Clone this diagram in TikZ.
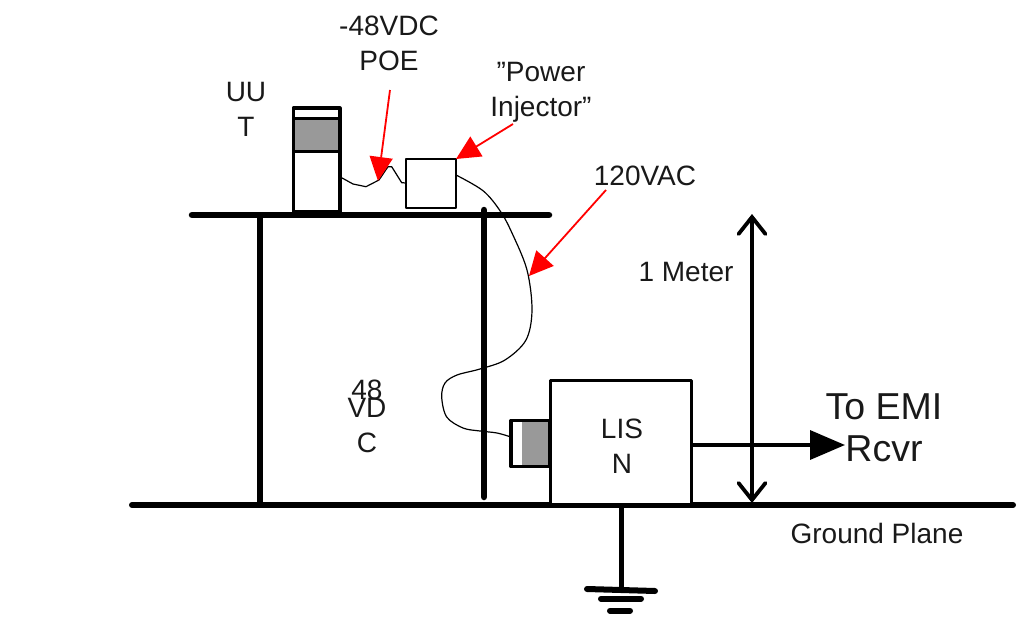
\documentclass[tikz,border=0pt]{standalone}
\usepackage{fontspec}
\setmainfont{Liberation Sans}
\usetikzlibrary{arrows.meta,calc}
\tikzset{
  thick rail/.style={line width=6.5pt,line cap=round,black},
  boxed/.style={draw=black,fill=white,line width=3.8pt,line join=round,inner sep=0pt,outer sep=0pt},
  greyblock/.style={fill=black!40,draw=none,inner sep=0pt,outer sep=0pt},
  wire/.style={line width=1.2pt,black,line join=round},
  callout/.style={draw=red,line width=1.8pt,-{Triangle[length=24pt,width=23pt,fill=red]}},
  lbl/.style={font=\fontsize{28}{35}\selectfont,align=center,inner sep=0pt,text=black!90},
  lblbig/.style={font=\fontsize{37.5}{42}\selectfont,align=center,inner sep=0pt,text=black!90},
}
\begin{document}
\begin{tikzpicture}[x=1pt,y=-1pt]
\useasboundingbox (0,0) rectangle (1021,635);
% rails
\coordinate (tableL) at (192,215);
\coordinate (tableR) at (549,215);
\coordinate (legAtop) at (260,215);
\coordinate (legAbot) at (260,505);
\coordinate (legBtop) at (484,210);
\coordinate (legBbot) at (484,497);
\coordinate (gndL) at (132,505);
\coordinate (gndR) at (1013,505);
\draw[thick rail] (tableL) -- (tableR);
\draw[thick rail,line cap=butt] (legAtop) -- (legAbot);
\draw[thick rail] (legBtop) -- (legBbot);
\draw[line width=6pt,line cap=round] (gndL) -- (gndR);
% UUT
\node[boxed,minimum width=46.5pt,minimum height=104pt,line width=3.5pt] (uut) at (316.5,160) {};
\node[boxed,draw=black,fill=black!40,line width=3.5pt,minimum width=46.5pt,minimum height=33pt] (uutscreen) at (316.5,135) {};
% injector
\node[boxed,line width=2pt,minimum width=50pt,minimum height=49pt] (inj) at (431,183.5) {};
% wires
\coordinate (w1) at (uut.east |- 0,176.7);
\coordinate (w1e) at (inj.west |- 0,183);
\draw[wire] (w1) -- (353,184) -- (366,186.7) -- (379,180) -- (388,166.7) -- (391.7,166.7) -- (401.7,182.7) -- (w1e);
\coordinate (w2) at (inj.east |- 0,175);
% LISN
\node[boxed,minimum width=141pt,minimum height=124pt] (lisn) at (621,442.5) {};
\node[boxed,line width=3.2pt,minimum width=38pt,minimum height=46pt] (plug) at (530,443.5) {};
\node[greyblock,minimum width=26pt,minimum height=43pt] (plugcore) at (535,443.5) {};
\draw[line width=3.8pt,line join=round] (lisn.north west) -- (lisn.south west);
\coordinate (w2e) at (plug.west |- 0,437);
\draw[wire] plot[smooth,tension=0.55] coordinates {(w2) (483,190.7) (500,210.7) (512,233) (527,270) (532,310) (526,340) (505,360) (480,369) (457,375) (445,383) (441.7,397) (446.7,417) (463,428) (480,431) (497,433) (w2e)};
% output and height arrow
\coordinate (outE) at (845,445);
\draw[line width=3.5pt,-{Triangle[length=35pt,width=29pt,fill=black]}] (lisn.east |- outE) -- (outE);
\coordinate (mTop) at (752,214);
\coordinate (mBot) at (752,503);
\draw[line width=3.8pt,{Straight Barb[length=17pt,width=27pt,line width=3.8pt,line cap=round]}-{Straight Barb[length=17pt,width=27pt,line width=3.8pt,line cap=round]}] (mTop) -- (mBot);
% earth
\coordinate (eTop) at (621,505);
\coordinate (eBot) at (621,590);
\coordinate (b1L) at (587,589);
\coordinate (b1R) at (655,591);
\coordinate (b2L) at (601,598.7);
\coordinate (b2R) at (641,598.7);
\coordinate (b3L) at (610,610.7);
\coordinate (b3R) at (630,610.7);
\draw[line width=5pt] (eTop) -- (eBot);
\draw[line width=6pt,line cap=round] (b1L) -- (b1R);
\draw[line width=6pt,line cap=round] (b2L) -- (b2R);
\draw[line width=6pt,line cap=round] (b3L) -- (b3R);
% labels
\node[lbl] (tpoe) at (389,43) {-48VDC\\POE};
\node[lbl] (tuut) at (246,109) {UU\\T};
\node[lbl] (tinj) at (541,92) {"Power\\Injector"};
\node[lbl,anchor=base] (tvac) at (645,185) {120VAC};
\node[lbl,anchor=base] (tm) at (686,281) {1 Meter};
\node[lbl,anchor=base] (tgp) at (877,543) {Ground Plane};
\node[lbl] (tlisn) at (622,446) {LIS\\N};
\node[lbl] (t48) at (367,416) {48\\[-17pt]VD\\C};
\node[lblbig] (temi) at (884,428) {To EMI\\Rcvr};
% callouts
\coordinate (c1s) at (390,90);
\coordinate (c1e) at (378,181);
\coordinate (c2s) at (513,124);
\coordinate (c3s) at (606,190);
\coordinate (c3e) at (529,276);
\draw[callout] (c1s) -- (c1e);
\draw[callout] (c2s) -- (inj.north east);
\draw[callout] (c3s) -- (c3e);
\end{tikzpicture}
\end{document}
